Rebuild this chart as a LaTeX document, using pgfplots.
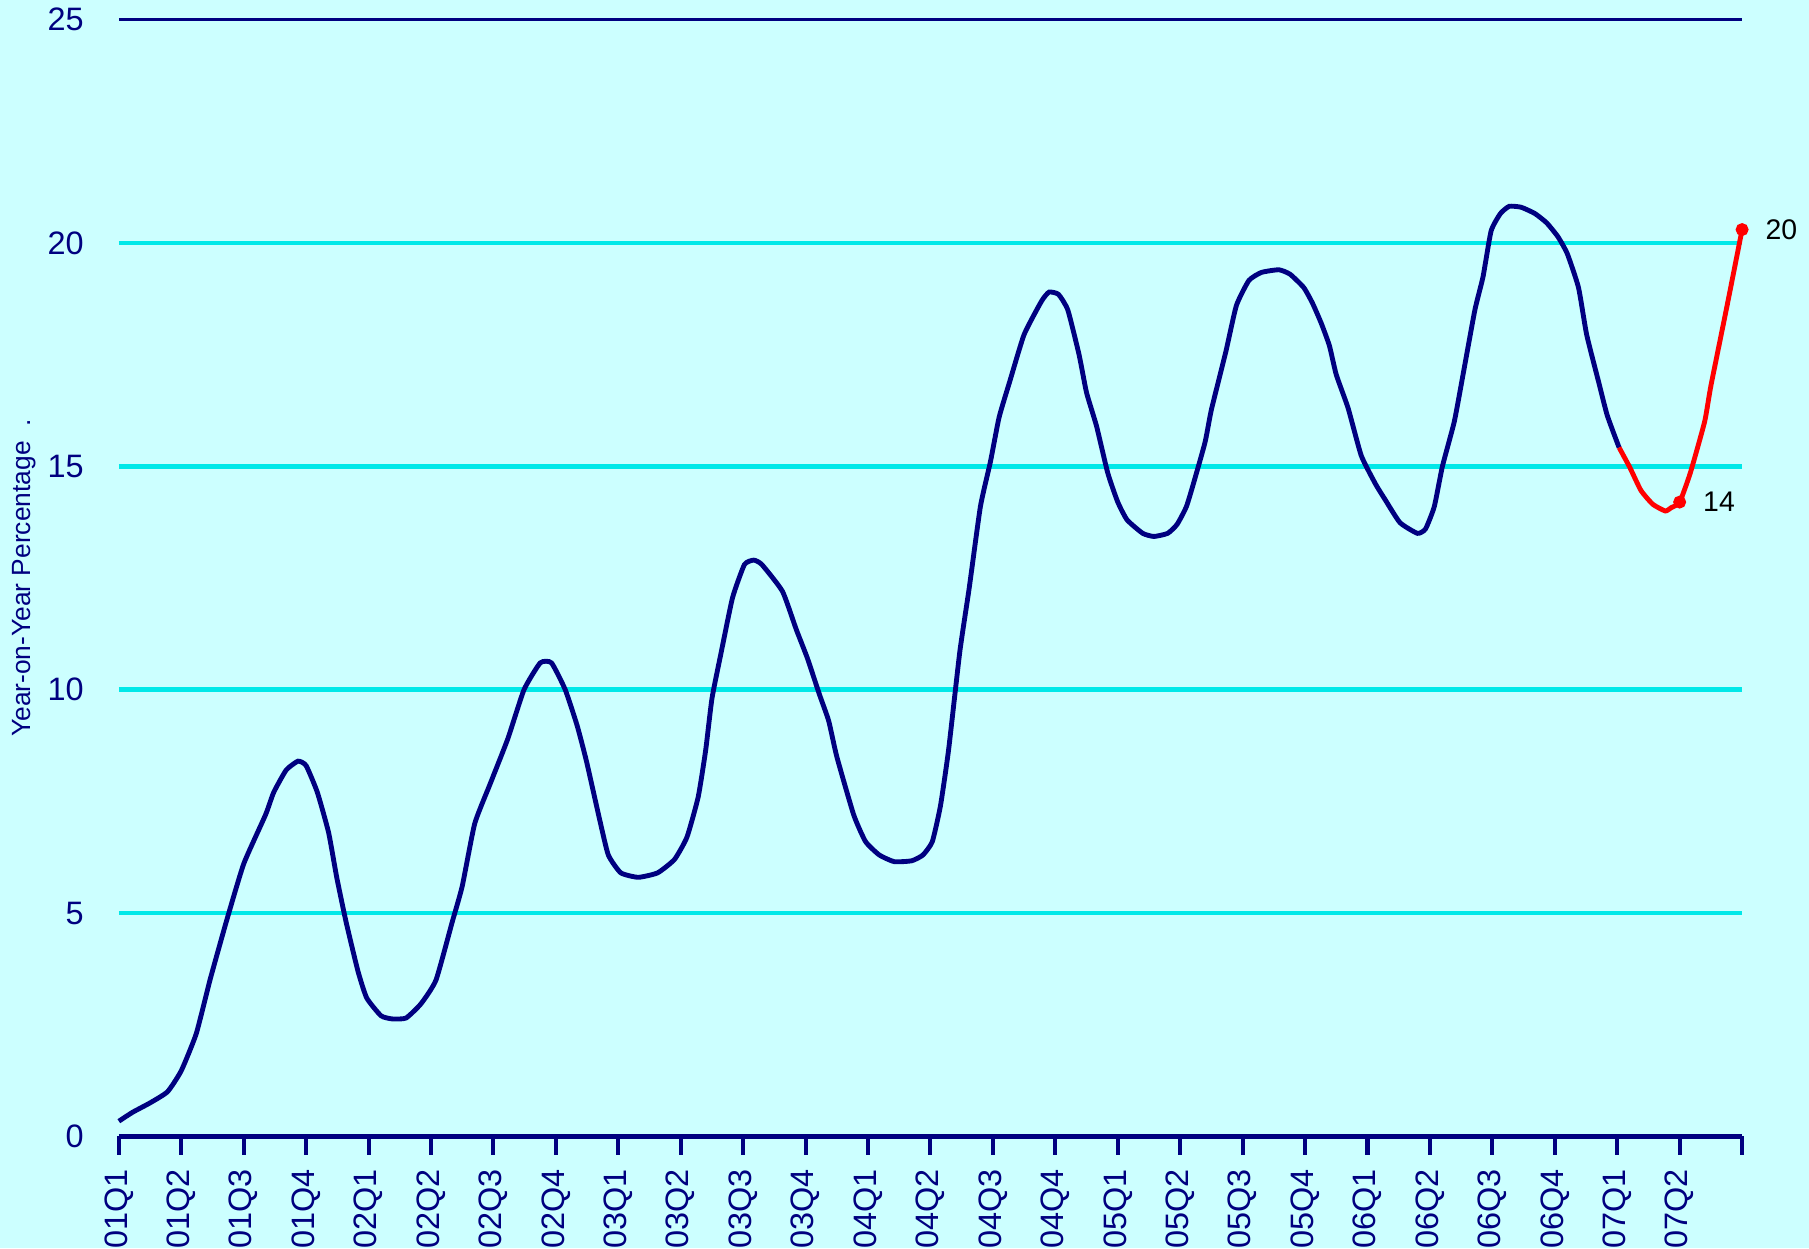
\documentclass[border=0pt]{standalone}
\usepackage{fontspec}
\setmainfont{Liberation Sans}
\usepackage{pgfplots}
\pgfplotsset{compat=1.18}
\definecolor{bg}{HTML}{CCFFFF}
\definecolor{navy}{HTML}{000080}
\definecolor{gridc}{HTML}{00E8E8}
\begin{document}
\begin{tikzpicture}
\path[fill=bg] (-10.3mm,-9.7mm) rectangle (146.5mm,98.5mm);
\begin{axis}[
  scale only axis, width=140.7mm, height=96.8mm,
  xmin=0, xmax=26, ymin=0, ymax=25,
  clip=false,
  axis x line=bottom, axis y line=left,
  x axis line style={navy, line width=1.3pt, -},
  y axis line style={draw=none},
  xtick={0,...,26},
  xticklabels={01Q1,01Q2,01Q3,01Q4,02Q1,02Q2,02Q3,02Q4,03Q1,03Q2,03Q3,03Q4,04Q1,04Q2,04Q3,04Q4,05Q1,05Q2,05Q3,05Q4,06Q1,06Q2,06Q3,06Q4,07Q1,07Q2,},
  x tick label style={rotate=90, anchor=east, font=\fontsize{8}{9}\selectfont, text=navy},
  x tick style={navy, line width=1pt},
  xtick align=outside, major tick length=1.6mm,
  ytick={0,5,10,15,20},
  extra y ticks={25},
  extra y tick style={grid style={navy, line width=0.9pt}},
  y tick style={draw=none},
  y tick label style={font=\fontsize{8}{9}\selectfont, text=navy},
  yticklabel style={xshift=-1mm},
  ymajorgrids, grid style={gridc, line width=1.1pt},
  /pgf/number format/assume math mode=true,
  ylabel={Year-on-Year Percentage\ \ .},
  ylabel style={font=\fontsize{6.5}{7}\selectfont, text=navy, yshift=-3mm},
]
\addplot[navy, line width=1.2pt, smooth, tension=0.3] coordinates {
(0,0.34)(0.22,0.54)(0.5,0.75)(0.78,1.0)(1.0,1.47)(1.24,2.3)(1.46,3.5)(1.72,4.8)(2.0,6.1)(2.35,7.2)(2.48,7.7)(2.68,8.2)(2.87,8.4)(3.0,8.3)(3.18,7.7)(3.36,6.8)(3.49,5.8)(3.64,4.8)(3.83,3.7)(3.97,3.1)(4.2,2.7)(4.38,2.63)(4.6,2.65)(4.84,2.97)(5.08,3.5)(5.34,4.8)(5.5,5.6)(5.7,7.0)(5.95,7.9)(6.23,8.9)(6.49,10.0)(6.75,10.6)(6.93,10.6)(7.15,10.0)(7.34,9.2)(7.49,8.4)(7.7,7.1)(7.84,6.3)(8.04,5.9)(8.32,5.8)(8.63,5.9)(8.9,6.2)(9.1,6.7)(9.28,7.6)(9.4,8.65)(9.5,9.8)(9.65,10.85)(9.83,12.06)(10.02,12.8)(10.17,12.9)(10.3,12.8)(10.63,12.2)(10.85,11.35)(11.03,10.7)(11.22,9.9)(11.37,9.3)(11.5,8.5)(11.77,7.2)(11.96,6.6)(12.18,6.3)(12.42,6.15)(12.7,6.17)(12.88,6.3)(13.03,6.6)(13.16,7.4)(13.29,8.65)(13.47,10.85)(13.62,12.27)(13.8,14.1)(13.96,15.1)(14.1,16.1)(14.27,16.9)(14.5,17.95)(14.78,18.7)(14.9,18.9)(15.05,18.85)(15.2,18.5)(15.38,17.5)(15.5,16.65)(15.66,15.9)(15.84,14.85)(16.0,14.2)(16.15,13.8)(16.4,13.5)(16.58,13.43)(16.8,13.5)(16.95,13.7)(17.1,14.1)(17.23,14.7)(17.4,15.55)(17.5,16.27)(17.73,17.56)(17.9,18.6)(18.1,19.16)(18.3,19.34)(18.58,19.4)(18.76,19.3)(18.98,19.0)(19.12,18.65)(19.26,18.2)(19.39,17.7)(19.5,17.05)(19.69,16.3)(19.9,15.24)(20.13,14.6)(20.28,14.26)(20.52,13.74)(20.8,13.5)(20.93,13.6)(21.07,14.1)(21.2,15.0)(21.39,16.0)(21.53,17.05)(21.72,18.5)(21.85,19.24)(21.98,20.27)(22.13,20.66)(22.27,20.82)(22.46,20.8)(22.68,20.66)(22.87,20.45)(23.05,20.14)(23.2,19.76)(23.38,19.0)(23.51,17.95)(23.7,16.9)(23.84,16.14)(24.03,15.42)
};
\addplot[red, line width=1.2pt, smooth, tension=0.3] coordinates {
(24.03,15.42)(24.2,14.98)(24.38,14.46)(24.57,14.15)(24.77,14.0)(24.86,14.07)(25.0,14.2)(25.17,14.85)(25.4,16.0)(25.5,16.8)(25.76,18.6)(26.0,20.3)
};
\addplot[red, only marks, mark=*, mark size=1.4pt,
  nodes near coords, point meta=explicit symbolic,
  every node near coord/.style={anchor=west, xshift=0.8mm, font=\fontsize{7}{9}\selectfont, text=black}]
  coordinates {(25,14.2)[14] (26,20.3)[20]};
\end{axis}
\pgfresetboundingbox
\useasboundingbox (-10.3mm,-9.7mm) rectangle (146.5mm,98.5mm);
\end{tikzpicture}
\end{document}
